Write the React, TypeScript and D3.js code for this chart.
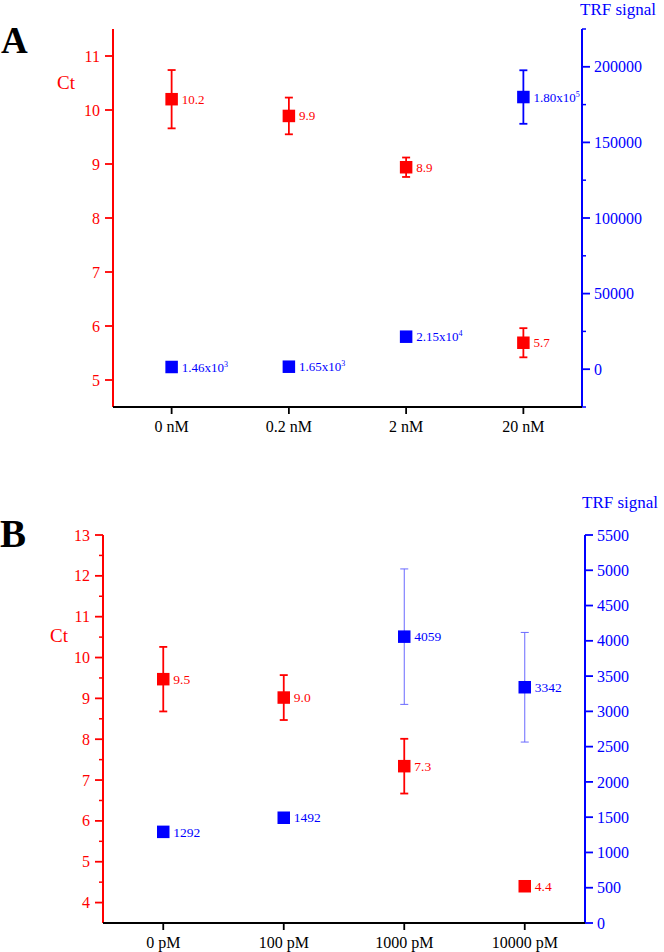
import React from "react";
import * as d3 from "d3";

// ---------- Panel A data ----------
const catsA = ["0 nM", "0.2 nM", "2 nM", "20 nM"];
const ctA = [10.2, 9.89, 8.94, 5.69];
const ctErrA = [0.54, 0.34, 0.18, 0.27];
const ctLabelA = ["10.2", "9.9", "8.9", "5.7"];
const trfA = [1460, 1650, 21500, 180000];
const trfErrA = [0, 0, 0, 17700];
const trfMantA = ["1.46", "1.65", "2.15", "1.80"];
const trfExpA = ["3", "3", "4", "5"];
const leftTicksA = [5, 6, 7, 8, 9, 10, 11];
const leftMinorA: number[] = [];
const rightTicksA = [0, 50000, 100000, 150000, 200000];
const rightMinorA = [-25000, 25000, 75000, 125000, 175000, 225000];

// ---------- Panel B data ----------
const catsB = ["0 pM", "100 pM", "1000 pM", "10000 pM"];
const ctB = [9.47, 9.02, 7.34, 4.4];
const ctErrB = [0.79, 0.55, 0.67, 0];
const ctLabelB = ["9.5", "9.0", "7.3", "4.4"];
const trfB = [1292, 1492, 4059, 3342];
const trfErrB = [0, 0, 960, 777];
const trfLabelB = ["1292", "1492", "4059", "3342"];
const leftTicksB = [4, 5, 6, 7, 8, 9, 10, 11, 12, 13];
const leftMinorB = [4.5, 5.5, 6.5, 7.5, 8.5, 9.5, 10.5, 11.5, 12.5];
const rightTicksB = [0, 500, 1000, 1500, 2000, 2500, 3000, 3500, 4000, 4500, 5000, 5500];
const rightMinorB: number[] = [];

const FONT = "'Liberation Serif', 'Times New Roman', serif";
const RED = "#ff0000";
const BLUE = "#0000ff";

type PanelProps = {
  letter: string;
  letterX: number;
  letterY: number;
  letterSize: number;
  x0: number;
  x1: number;
  y0: number;
  y1: number;
  leftDomain: [number, number];
  rightDomain: [number, number];
  cats: string[];
  ct: number[];
  ctErr: number[];
  ctLabel: string[];
  trf: number[];
  trfErr: number[];
  trfMant: string[];
  trfExp: string[] | null;
  leftTicks: number[];
  leftMinor: number[];
  rightTicks: number[];
  rightMinor: number[];
  ctLabelPos: [number, number];
  trfTitlePos: [number, number];
  valueFont: number;
  blueErrThin: boolean;
};

function Panel(p: PanelProps) {
  const x = d3.scaleLinear().domain([0.5, 4.5]).range([p.x0, p.x1]);
  const yL = d3.scaleLinear().domain(p.leftDomain).range([p.y1, p.y0]);
  const yR = d3.scaleLinear().domain(p.rightDomain).range([p.y1, p.y0]);
  const ms = 12.5;
  const cap = 4;
  return (
    <g fontFamily={FONT}>
      <text x={p.letterX} y={p.letterY} fontSize={p.letterSize} fontWeight="bold" fill="#000">
        {p.letter}
      </text>
      {/* left axis */}
      <line x1={p.x0} x2={p.x0} y1={p.y0} y2={p.y1} stroke={RED} strokeWidth={2} />
      {p.leftTicks.map((t) => (
        <g key={"lt" + t}>
          <line x1={p.x0 - 8} x2={p.x0} y1={yL(t)} y2={yL(t)} stroke={RED} strokeWidth={1.8} />
          <text x={p.x0 - 13} y={yL(t)} dy="0.35em" textAnchor="end" fontSize={16} fill={RED}>
            {t}
          </text>
        </g>
      ))}
      {p.leftMinor.map((t) => (
        <line key={"lm" + t} x1={p.x0 - 4} x2={p.x0} y1={yL(t)} y2={yL(t)} stroke={RED} strokeWidth={1.5} />
      ))}
      <text x={p.ctLabelPos[0]} y={p.ctLabelPos[1]} fontSize={19} fill={RED}>
        Ct
      </text>
      {/* right axis */}
      <line x1={p.x1} x2={p.x1} y1={p.y0} y2={p.y1} stroke={BLUE} strokeWidth={2} />
      {p.rightTicks.map((t) => (
        <g key={"rt" + t}>
          <line x1={p.x1} x2={p.x1 + 8} y1={yR(t)} y2={yR(t)} stroke={BLUE} strokeWidth={1.8} />
          <text x={p.x1 + 12} y={yR(t)} dy="0.35em" textAnchor="start" fontSize={16} fill={BLUE}>
            {t}
          </text>
        </g>
      ))}
      {p.rightMinor.map((t) => (
        <line key={"rm" + t} x1={p.x1} x2={p.x1 + 4} y1={yR(t)} y2={yR(t)} stroke={BLUE} strokeWidth={1.5} />
      ))}
      <text x={p.trfTitlePos[0]} y={p.trfTitlePos[1]} fontSize={17} fill={BLUE}>
        TRF signal
      </text>
      {/* x axis */}
      <line x1={p.x0} x2={p.x1} y1={p.y1} y2={p.y1} stroke="#000" strokeWidth={2} />
      {p.cats.map((c, i) => (
        <g key={"c" + c}>
          <line x1={x(i + 1)} x2={x(i + 1)} y1={p.y1} y2={p.y1 + 7} stroke="#000" strokeWidth={1.8} />
          <text x={x(i + 1)} y={p.y1 + 25} textAnchor="middle" fontSize={16} fill="#000">
            {c}
          </text>
        </g>
      ))}
      {/* Ct series */}
      {p.ct.map((v, i) => {
        const cx = x(i + 1);
        const cy = yL(v);
        const e = p.ctErr[i];
        return (
          <g key={"ct" + i}>
            {e > 0 && (
              <g stroke={RED} strokeWidth={1.8}>
                <line x1={cx} x2={cx} y1={yL(v + e)} y2={yL(v - e)} />
                <line x1={cx - cap} x2={cx + cap} y1={yL(v + e)} y2={yL(v + e)} />
                <line x1={cx - cap} x2={cx + cap} y1={yL(v - e)} y2={yL(v - e)} />
              </g>
            )}
            <rect x={cx - ms / 2} y={cy - ms / 2} width={ms} height={ms} fill={RED} />
            <text x={cx + 10} y={cy} dy="0.35em" fontSize={p.valueFont} fill={RED}>
              {p.ctLabel[i]}
            </text>
          </g>
        );
      })}
      {/* TRF series */}
      {p.trf.map((v, i) => {
        const cx = x(i + 1);
        const cy = yR(v);
        const e = p.trfErr[i];
        const sw = p.blueErrThin ? 1 : 1.8;
        const col = p.blueErrThin ? "#6a6aff" : BLUE;
        return (
          <g key={"trf" + i}>
            {e > 0 && (
              <g stroke={col} strokeWidth={sw}>
                <line x1={cx} x2={cx} y1={yR(v + e)} y2={yR(v - e)} />
                <line x1={cx - cap} x2={cx + cap} y1={yR(v + e)} y2={yR(v + e)} />
                <line x1={cx - cap} x2={cx + cap} y1={yR(v - e)} y2={yR(v - e)} />
              </g>
            )}
            <rect x={cx - ms / 2} y={cy - ms / 2} width={ms} height={ms} fill={BLUE} />
            <text x={cx + 10} y={cy} dy="0.35em" fontSize={p.valueFont} fill={BLUE}>
              <tspan>{p.trfMant[i] + (p.trfExp ? "x10" : "")}</tspan>
              {p.trfExp && (
                <tspan dy={-5} fontSize={8}>
                  {p.trfExp[i]}
                </tspan>
              )}
            </text>
          </g>
        );
      })}
    </g>
  );
}

export default function App() {
  return (
    <svg
      width={664}
      height={952}
      style={{ position: "absolute", left: 0, top: 0, background: "#fff" }}
    >
      <rect x={0} y={0} width={664} height={952} fill="#fff" />
      <Panel
        letter="A"
        letterX={1}
        letterY={53}
        letterSize={37}
        x0={113}
        x1={582}
        y0={29}
        y1={407}
        leftDomain={[4.5, 11.5]}
        rightDomain={[-25000, 225000]}
        cats={catsA}
        ct={ctA}
        ctErr={ctErrA}
        ctLabel={ctLabelA}
        trf={trfA}
        trfErr={trfErrA}
        trfMant={trfMantA}
        trfExp={trfExpA}
        leftTicks={leftTicksA}
        leftMinor={leftMinorA}
        rightTicks={rightTicksA}
        rightMinor={rightMinorA}
        ctLabelPos={[57, 89]}
        trfTitlePos={[580, 15]}
        valueFont={13}
        blueErrThin={false}
      />
      <Panel
        letter="B"
        letterX={0}
        letterY={547}
        letterSize={39}
        x0={103}
        x1={585}
        y0={535}
        y1={923}
        leftDomain={[3.5, 13]}
        rightDomain={[0, 5500]}
        cats={catsB}
        ct={ctB}
        ctErr={ctErrB}
        ctLabel={ctLabelB}
        trf={trfB}
        trfErr={trfErrB}
        trfMant={trfLabelB}
        trfExp={null}
        leftTicks={leftTicksB}
        leftMinor={leftMinorB}
        rightTicks={rightTicksB}
        rightMinor={rightMinorB}
        ctLabelPos={[50, 642]}
        trfTitlePos={[582, 508]}
        valueFont={13.5}
        blueErrThin={true}
      />
    </svg>
  );
}
